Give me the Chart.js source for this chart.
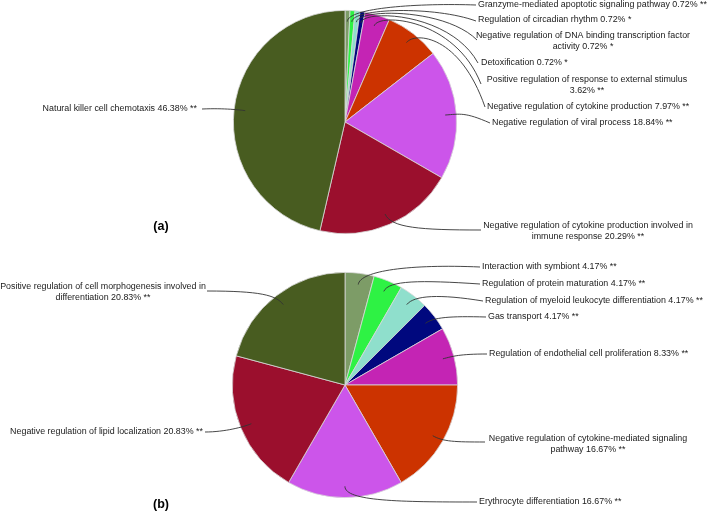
<!DOCTYPE html>
<html>
<head>
<meta charset="utf-8">
<script src="https://cdn.jsdelivr.net/npm/chart.js@4.4.0/dist/chart.umd.min.js"></script>
<style>
body { margin: 0; background: #fff; }
.painel { position: absolute; left: 0; width: 709px; height: 256px; }
</style>
</head>
<body>
<div class="painel" style="top:0"><canvas id="graficoA" width="709" height="256"></canvas></div>
<div class="painel" style="top:256px"><canvas id="graficoB" width="709" height="256"></canvas></div>
<script>
// ---------- dados (a) ----------
const termosA = [
    'Granzyme-mediated apoptotic signaling pathway',
    'Regulation of circadian rhythm',
    'Negative regulation of DNA binding transcription factor activity',
    'Detoxification',
    'Positive regulation of response to external stimulus',
    'Negative regulation of cytokine production',
    'Negative regulation of viral process',
    'Negative regulation of cytokine production involved in immune response',
    'Natural killer cell chemotaxis'
];
const percA = [0.72, 0.72, 0.72, 0.72, 3.62, 7.97, 18.84, 20.29, 46.38];
const sigA = ['**', '*', '*', '*', '**', '**', '**', '**', '**'];

// ---------- dados (b) ----------
const termosB = [
    'Interaction with symbiont',
    'Regulation of protein maturation',
    'Regulation of myeloid leukocyte differentiation',
    'Gas transport',
    'Regulation of endothelial cell proliferation',
    'Negative regulation of cytokine-mediated signaling pathway',
    'Erythrocyte differentiation',
    'Negative regulation of lipid localization',
    'Positive regulation of cell morphogenesis involved in differentiation'
];
const percB = [4.17, 4.17, 4.17, 4.17, 8.33, 16.67, 16.67, 20.83, 20.83];
const sigB = ['**', '**', '**', '**', '**', '**', '**', '**', '**'];

// cores
const coresA = ['#7d9c67', '#2ef244', '#8fdfcc', '#00087e', '#c424b4', '#cc3300', '#cc55ea', '#9b0f2d', '#485c20'];
const coresB = ['#7d9c67', '#2ef244', '#8fdfcc', '#00087e', '#c424b4', '#cc3300', '#cc55ea', '#9b0f2d', '#485c20'];

// posição dos rótulos e linhas (layout)
const posA = [
    { tx: 478, ty: 5,   al: 'left',   ex: 476, ey: 5,   cx: 420, cy: 3,   k: 14 },
    { tx: 478, ty: 20,  al: 'left',   ex: 476, ey: 21,  cx: 435, cy: 6,   k: 14 },
    { tx: 583, ty: 36,  al: 'center', ex: 477, ey: 40,  cx: 445, cy: 8,   k: 14, w: 218 },
    { tx: 481, ty: 63,  al: 'left',   ex: 478, ey: 63,  cx: 450, cy: 12,  k: 14 },
    { tx: 587, ty: 80,  al: 'center', ex: 481, ey: 84,  cx: 455, cy: 18,  k: 14, w: 215 },
    { tx: 487, ty: 107, al: 'left',   ex: 485, ey: 107, cx: 460, cy: 35,  k: 14 },
    { tx: 492, ty: 123, al: 'left',   ex: 490, ey: 123, cx: 465, cy: 112, k: 15 },
    { tx: 588, ty: 226, al: 'center', ex: 481, ey: 230, cx: 420, cy: 230, k: 15, w: 222 },
    { tx: 197, ty: 109, al: 'right',  ex: 202, ey: 109, cx: 225, cy: 108, k: 5 }
];
const posB = [
    { tx: 482, ty: 11,  al: 'left',   ex: 480, ey: 11,  cx: 410, cy: 8,   k: 14 },
    { tx: 482, ty: 28,  al: 'left',   ex: 480, ey: 28,  cx: 420, cy: 24,  k: 12 },
    { tx: 485, ty: 45,  al: 'left',   ex: 483, ey: 45,  cx: 440, cy: 38,  k: 12 },
    { tx: 488, ty: 61,  al: 'left',   ex: 486, ey: 61,  cx: 450, cy: 60,  k: 10 },
    { tx: 489, ty: 98,  al: 'left',   ex: 487, ey: 98,  cx: 460, cy: 98,  k: 10 },
    { tx: 588, ty: 183, al: 'center', ex: 485, ey: 186, cx: 455, cy: 186, k: 12, w: 218 },
    { tx: 479, ty: 246, al: 'left',   ex: 477, ey: 246, cx: 400, cy: 246, k: 15 },
    { tx: 203, ty: 176, al: 'right',  ex: 205, ey: 176, cx: 225, cy: 176, k: 8 },
    { tx: 103, ty: 31,  al: 'center', ex: 207, ey: 35,  cx: 260, cy: 35,  k: 12, w: 222 }
];

const FONTE = '8.9px "Liberation Sans", Arial, sans-serif';

function quebrar(ctx, texto, largura) {
    const palavras = texto.split(' ');
    const linhas = [];
    let atual = '';
    palavras.forEach(p => {
        const teste = atual ? atual + ' ' + p : p;
        if (ctx.measureText(teste).width > largura && atual) {
            linhas.push(atual);
            atual = p;
        } else {
            atual = teste;
        }
    });
    if (atual) linhas.push(atual);
    return linhas;
}

const rotulosPlugin = {
    id: 'rotulos',
    afterDraw(chart, args, opts) {
        const ctx = chart.ctx;
        const arcos = chart.getDatasetMeta(0).data;
        const nomes = chart.data.labels;
        const vals = chart.data.datasets[0].data;
        ctx.save();
        ctx.font = FONTE;
        ctx.fillStyle = '#1a1a1a';
        ctx.strokeStyle = '#333';
        ctx.lineWidth = 0.9;
        ctx.textBaseline = 'middle';
        opts.pos.forEach((p, i) => {
            const a = arcos[i];
            const meio = (a.startAngle + a.endAngle) / 2;
            const r = a.outerRadius * 0.9;
            const x0 = a.x + Math.cos(meio) * r;
            const y0 = a.y + Math.sin(meio) * r;
            ctx.beginPath();
            ctx.moveTo(x0, y0);
            ctx.bezierCurveTo(x0 + Math.cos(meio) * p.k, y0 + Math.sin(meio) * p.k, p.cx, p.cy, p.ex, p.ey);
            ctx.stroke();

            const texto = `${nomes[i]} ${vals[i].toFixed(2)}% ${opts.sig[i]}`;
            const linhas = p.w ? quebrar(ctx, texto, p.w) : [texto];
            ctx.textAlign = p.al;
            linhas.forEach((l, j) => ctx.fillText(l, p.tx, p.ty + j * 10.5));
        });
        // letra do painel
        ctx.font = 'bold 12.5px "Liberation Sans", Arial, sans-serif';
        ctx.textAlign = 'center';
        ctx.fillStyle = '#000';
        ctx.fillText(opts.letra, 161, opts.letraY);
        ctx.restore();
    }
};

function criarPizza(id, termos, valores, cores, sig, pos, padding, letra, letraY) {
    const ctx = document.getElementById(id).getContext('2d');
    return new Chart(ctx, {
        type: 'pie',
        data: {
            labels: termos,
            datasets: [{ data: valores, backgroundColor: cores, borderColor: '#d8d8d8', borderWidth: 0.8 }]
        },
        options: {
            responsive: false,
            animation: false,
            layout: { padding: padding },
            plugins: {
                legend: { display: false },
                tooltip: { enabled: false },
                rotulos: { pos: pos, sig: sig, letra: letra, letraY: letraY }
            }
        },
        plugins: [rotulosPlugin]
    });
}

criarPizza('graficoA', termosA, percA, coresA, sigA, posA,
    { left: 233, right: 252, top: 10, bottom: 22 }, '(a)', 227);
criarPizza('graficoB', termosB, percB, coresB, sigB, posB,
    { left: 232, right: 251, top: 16, bottom: 14 }, '(b)', 249);
</script>
</body>
</html>
